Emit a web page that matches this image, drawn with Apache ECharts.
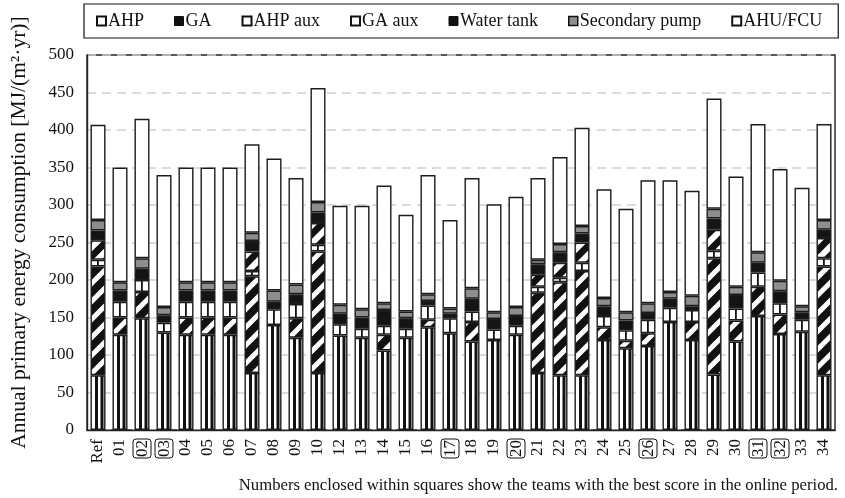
<!DOCTYPE html>
<html><head><meta charset="utf-8">
<script src="https://cdn.jsdelivr.net/npm/echarts@6/dist/echarts.min.js"></script>
<style>html,body{margin:0;padding:0;background:#fff}#c{width:845px;height:498px}</style>
</head><body><div id="c"></div>
<script>
const categories = ['Ref','01','02','03','04','05','06','07','08','09','10','12','13','14','15','16','17','18','19','20','21','22','23','24','25','26','27','28','29','30','31','32','33','34'];
const boxed = ['02','03','17','20','26','31','32'];
const seriesNames = ['AHP','GA','AHP aux','GA aux','Water tank','Secondary pump','AHU/FCU'];
const ahp      = [73,127,149,130,127,127,127,76,140,123,76,126,123,106,123,137,129,118,120,127,76,73,73,120,109,112,144,120,74,118,152,128,131,73];
const ga       = [145,23,35,0,23,23,23,129,0,26,162,0,0,21,0,10,0,26,0,0,107,124,139,17,10,17,0,24,155,28,39,26,0,145];
const ahpAux   = [9,21,16,13,21,21,21,7,21,19,9,15,12,12,12,19,20,14,14,12,8,6,11,15,14,18,19,16,10,16,19,15,16,11];
const gaAux    = [26,0,0,0,0,0,0,26,0,0,29,0,0,0,0,0,0,0,0,0,16,20,27,0,0,0,0,0,28,0,0,0,0,27];
const waterTank= [13,15,15,10,15,15,15,14,10,13,14,14,15,21,14,6,6,17,14,13,14,14,12,13,13,9,12,5,15,18,13,16,10,11];
const secPump  = [14,11,14,11,11,11,11,11,15,13,14,12,11,9,9,9,7,14,9,12,6,11,10,11,11,13,9,14,13,11,14,14,8,13];
const ahuFcu   = [127,153,186,176,153,153,153,118,176,142,152,132,138,157,129,159,118,147,144,147,109,116,131,145,138,164,149,140,147,147,171,149,158,128];
const yTicks = [0,50,100,150,200,250,300,350,400,450,500];

const SERIF = "'Liberation Serif','Times New Roman',serif";
const GL = 87, GW = 748;

function mk(w, h, draw) { const c = document.createElement('canvas'); c.width = w; c.height = h; const g = c.getContext('2d'); draw(g, w, h); return c; }
const vStripe = mk(22, 4, (g, w, h) => { g.fillStyle = '#fff'; g.fillRect(0,0,w,h); g.fillStyle = '#111'; g.fillRect(8,0,3,h); g.fillRect(13.5,0,3,h); });
const auxBox = mk(22, 4, (g, w, h) => { g.fillStyle = '#fff'; g.fillRect(0,0,w,h); g.fillStyle = '#111'; g.fillRect(10,0,1.8,h); });
function diag(bg, fg, lw) { return mk(18, 18, (g, w, h) => { g.fillStyle = bg; g.fillRect(0,0,w,h); g.strokeStyle = fg; g.lineWidth = lw; g.beginPath(); g.moveTo(-4,22); g.lineTo(22,-4); g.moveTo(-4,4); g.lineTo(4,-4); g.moveTo(14,22); g.lineTo(22,14); g.stroke(); }); }
const gaPat = diag('#111', '#fff', 5);
const gaAuxPat = diag('#111', '#fff', 6);
const pat = img => ({ image: img, repeat: 'repeat', x: GL, y: 0 });

const fills = [pat(vStripe), pat(gaPat), pat(auxBox), pat(gaAuxPat), '#141414', '#8e8e8e', '#ffffff'];
const values = [ahp, ga, ahpAux, gaAux, waterTank, secPump, ahuFcu];

const series = seriesNames.map((n, i) => ({
  name: n, type: 'bar', stack: 'total', barWidth: 15,
  data: values[i].map(v => v === 0 ? '-' : v),
  itemStyle: { color: fills[i], borderColor: '#1c1c1c', borderWidth: 1.4 },
  emphasis: { disabled: true }
}));

const legendStyles = [
  { color: '#fff', borderColor: '#111', borderWidth: 2 },
  { color: '#111', borderColor: '#111', borderWidth: 1 },
  { color: '#fff', borderColor: '#111', borderWidth: 2 },
  { color: '#fff', borderColor: '#111', borderWidth: 2 },
  { color: '#111', borderColor: '#111', borderWidth: 1 },
  { color: '#8e8e8e', borderColor: '#111', borderWidth: 1.5 },
  { color: '#fff', borderColor: '#111', borderWidth: 2 }
];

const chart = echarts.init(document.getElementById('c'), null, { renderer: 'canvas' });
chart.setOption({
  animation: false,
  backgroundColor: '#fff',
  title: {
    text: 'Numbers enclosed within squares show the teams with the best score in the online period.',
    right: 2, top: 472,
    textStyle: { fontFamily: SERIF, fontSize: 16.7, fontWeight: 'normal', color: '#111' }
  },
  legend: {
    data: seriesNames.map((n, i) => ({ name: n, icon: 'rect', itemStyle: legendStyles[i] })),
    left: 84, top: 4,
    padding: [8, 16, 8, 12],
    borderColor: '#111', borderWidth: 1.2,
    itemWidth: 9, itemHeight: 9, itemGap: 30,
    textStyle: { fontFamily: SERIF, fontSize: 18, color: '#111', padding: [0,0,0,-3] },
    selectedMode: false
  },
  grid: { left: GL, width: GW, top: 55, bottom: 68, show: true, borderColor: '#222', borderWidth: 1.4, backgroundColor: 'transparent' },
  xAxis: {
    type: 'category', data: categories,
    axisLine: { lineStyle: { color: '#222', width: 1.4 } },
    axisTick: { show: false },
    axisLabel: {
      interval: 0, rotate: 90, margin: 9, color: '#111', fontFamily: SERIF, fontSize: 17,
      formatter: v => boxed.includes(v) ? '{b|' + v + '}' : v,
      rich: { b: { fontFamily: SERIF, fontSize: 17, color: '#111', borderColor: '#111', borderWidth: 1, borderRadius: 3, padding: [1, 1, 0, 1] } }
    }
  },
  yAxis: {
    type: 'value', min: yTicks[0], max: yTicks[yTicks.length - 1], interval: 50,
    name: 'Annual primary energy consumption [MJ/(m²·yr)]',
    nameLocation: 'middle', nameGap: 57,
    nameTextStyle: { fontFamily: SERIF, fontSize: 21.5, color: '#111', padding: [0, 0, 0, 20] },
    axisLine: { show: true, lineStyle: { color: '#222', width: 1.4 } },
    axisTick: { show: false },
    axisLabel: { color: '#111', fontFamily: SERIF, fontSize: 17, margin: 13 },
    splitLine: { show: true, lineStyle: { type: [9, 6], color: '#cfcfcf', width: 1.5 } }
  },
  series: series
});
</script></body></html>
